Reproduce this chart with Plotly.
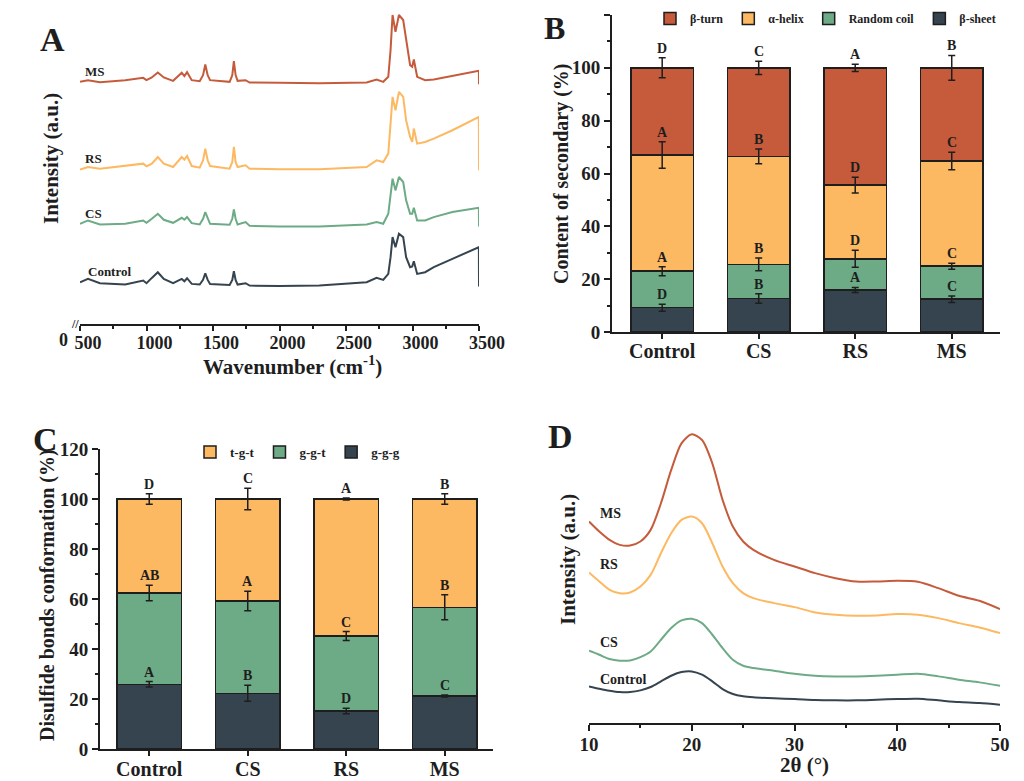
import numpy as np
import plotly.graph_objects as go

SERIF = "Liberation Serif, Times New Roman, serif"
INK = "#1e1e1e"

# ---------------- A : Raman spectra (intensity in a.u., already offset)
wavenumber = [500, 560, 650, 840, 975, 1000, 1040, 1085, 1130, 1200, 1265, 1285, 1305,
              1340, 1400, 1425, 1442, 1460, 1478, 1625, 1645, 1657, 1670, 1685, 1745,
              1775, 2000, 2300, 2655, 2730, 2780, 2818, 2835, 2850, 2872, 2898, 2930,
              2952, 2982, 2998, 3010, 3035, 3095, 3160, 3300, 3499, 3500]
raman_ms = [725, 730, 724, 730, 737, 730, 738, 753, 738, 728, 752, 742, 754,
            730, 727, 745, 777, 745, 730, 725, 745, 787, 745, 728, 730,
            723, 722, 721, 723, 732, 725, 740, 820, 925, 875, 925, 910,
            850, 775, 770, 792, 740, 730, 732, 742, 758, 718]
raman_rs = [462, 470, 465, 473, 480, 472, 480, 500, 480, 470, 500, 492, 503,
            473, 468, 490, 525, 490, 473, 465, 485, 530, 485, 470, 475,
            465, 463, 463, 470, 490, 485, 510, 590, 680, 640, 695, 680,
            610, 560, 545, 585, 540, 545, 555, 580, 620, 460]
raman_cs = [300, 310, 298, 300, 310, 303, 315, 330, 312, 303, 318, 312, 320,
            302, 298, 315, 335, 315, 300, 297, 315, 343, 315, 298, 305,
            294, 292, 292, 298, 305, 300, 330, 380, 435, 400, 440, 425,
            370, 330, 330, 348, 310, 310, 320, 335, 348, 292]
raman_control = [125, 135, 122, 118, 130, 122, 138, 155, 135, 122, 135, 128, 137,
                 120, 118, 132, 152, 132, 120, 117, 132, 158, 132, 118, 122,
                 115, 114, 115, 125, 138, 132, 150, 200, 260, 230, 270, 260,
                 200, 170, 172, 188, 150, 155, 170, 195, 230, 112]
wn_ticks = [500, 1000, 1500, 2000, 2500, 3000, 3500]

groups = ["Control", "CS", "RS", "MS"]

# ---------------- B : secondary structure (%)
sheet = [9.2, 12.7, 15.9, 12.4]
coil = [13.8, 12.9, 11.8, 12.5]
helix = [44.0, 40.9, 27.9, 39.8]
turn = [33.0, 33.5, 44.4, 35.3]
sheet_sd = [1.3, 1.8, 0.95, 1.2]
coil_sd = [1.7, 2.4, 3.2, 1.1]
helix_sd = [5.0, 2.8, 3.0, 3.3]
turn_sd = [3.8, 2.5, 1.4, 4.7]
sheet_sig = ["D", "B", "A", "C"]
coil_sig = ["A", "B", "D", "C"]
helix_sig = ["A", "B", "D", "C"]
turn_sig = ["D", "C", "A", "B"]

# ---------------- C : disulfide bond conformation (%)
ggg = [25.9, 22.3, 15.2, 21.2]
ggt = [36.5, 36.9, 30.0, 35.5]
tgt = [37.6, 40.8, 54.8, 43.3]
ggg_sd = [1.1, 3.2, 1.1, 0.4]
ggt_sd = [3.1, 3.9, 1.8, 5.0]
tgt_sd = [2.1, 4.3, 0.4, 2.1]
ggg_sig = ["A", "B", "D", "C"]
ggt_sig = ["AB", "A", "C", "B"]
tgt_sig = ["D", "C", "A", "B"]

# ---------------- D : XRD (intensity in a.u., already offset)
two_theta = [10, 11, 12, 13, 14, 15, 16, 17, 18, 19, 20, 21, 22, 23, 24, 25, 26,
             28, 30, 32, 34, 36, 38, 40, 42, 44, 46, 48, 50]
xrd_ms = [605, 575, 550, 535, 533, 545, 580, 660, 760, 840, 867, 850, 780, 670, 590,
          545, 520, 490, 470, 450, 435, 425, 425, 427, 424, 405, 382, 367, 342]
xrd_rs = [452, 425, 400, 390, 392, 410, 445, 510, 570, 610, 620, 600, 540, 470, 420,
          390, 375, 360, 348, 332, 325, 322, 323, 327, 325, 315, 300, 287, 270]
xrd_cs = [217, 205, 192, 187, 188, 198, 215, 250, 285, 308, 313, 300, 265, 225, 190,
          172, 165, 157, 148, 142, 140, 140, 142, 145, 148, 140, 130, 122, 112]
xrd_control = [110, 103, 97, 93, 93, 98, 108, 125, 142, 153, 155, 145, 125, 102, 87,
               80, 77, 74, 72, 69, 68, 68, 70, 72, 73, 68, 63, 60, 55]

C_RED = "#C65B3C"
C_ORANGE = "#FDB862"
C_GREEN = "#6DAB86"
C_DARK = "#35444F"

# page body keeps an 8px margin, so the figure sits 8px in from the window corner
W, H, PAD = 1008, 773, 8


def px(x):
    return (x - PAD) / W


def py(y):
    return 1 - (y - PAD) / H


fig = go.Figure()

# A lines
for name, vals, col in [("Control", raman_control, C_DARK), ("CS", raman_cs, C_GREEN),
                        ("RS", raman_rs, C_ORANGE), ("MS", raman_ms, C_RED)]:
    fig.add_trace(go.Scatter(x=wavenumber, y=vals, mode="lines", line=dict(color=col, width=2),
                             xaxis="x", yaxis="y", showlegend=False, name=name))

# D lines
for name, vals, col in [("Control", xrd_control, C_DARK), ("CS", xrd_cs, C_GREEN),
                        ("RS", xrd_rs, C_ORANGE), ("MS", xrd_ms, C_RED)]:
    fig.add_trace(go.Scatter(x=two_theta, y=vals, mode="lines",
                             line=dict(color=col, width=2, shape="spline", smoothing=0.8),
                             xaxis="x4", yaxis="y4", showlegend=False, name=name))

letters = []


def stacked(parts, ax, legend):
    xa, ya = ax
    bottom = np.zeros(len(groups))
    for label, vals, sd, sig, col in parts:
        vals = np.array(vals)
        fig.add_trace(go.Bar(x=groups, y=vals, name=label, marker=dict(color=col, line=dict(color=INK, width=1.5)),
                             xaxis=xa, yaxis=ya, legend=legend))
        top = bottom + vals
        fig.add_trace(go.Scatter(x=groups, y=top, mode="markers", marker=dict(size=1, color="rgba(0,0,0,0)"),
                                 error_y=dict(type="data", array=sd, color=INK, thickness=1.5, width=3.5),
                                 xaxis=xa, yaxis=ya, showlegend=False, hoverinfo="skip"))
        for g, t, s, l in zip(groups, top, sd, sig):
            letters.append(dict(x=g, y=t + s, xref=xa, yref=ya, text=l, showarrow=False,
                                yanchor="bottom", yshift=0,
                                font=dict(family=SERIF, size=14, color=INK, weight="bold")))
        bottom = top


stacked([("β-sheet", sheet, sheet_sd, sheet_sig, C_DARK),
         ("Random coil", coil, coil_sd, coil_sig, C_GREEN),
         ("α-helix", helix, helix_sd, helix_sig, C_ORANGE),
         ("β-turn", turn, turn_sd, turn_sig, C_RED)], ("x2", "y2"), "legend")

stacked([("g-g-g", ggg, ggg_sd, ggg_sig, C_DARK),
         ("g-g-t", ggt, ggt_sd, ggt_sig, C_GREEN),
         ("t-g-t", tgt, tgt_sd, tgt_sig, C_ORANGE)], ("x3", "y3"), "legend2")

tick_font = dict(family=SERIF, size=19, color=INK, weight="bold")
cat_font = dict(family=SERIF, size=20, color=INK, weight="bold")
axis_common = dict(showline=True, linecolor=INK, linewidth=2, ticks="outside", tickcolor=INK,
                   tickwidth=2, showgrid=False, zeroline=False, automargin=False)

fig.update_layout(
    width=W, height=H, margin=dict(l=0, r=0, t=0, b=0, autoexpand=False),
    paper_bgcolor="white", plot_bgcolor="white",
    barmode="stack", bargap=0.35,
    xaxis=dict(domain=[px(80), px(479)], range=[500, 3500], anchor="y", tickvals=wn_ticks,
               ticklen=5, ticklabelshift=8, ticklabelstandoff=-4, tickfont=dict(tick_font, size=18),
               minor=dict(ticks="outside", dtick=250, ticklen=3, tickcolor=INK),
               **axis_common),
    yaxis=dict(domain=[py(324), py(10)], range=[0, 940], visible=False, automargin=False),
    xaxis2=dict(domain=[px(612), px(1000)], anchor="y2", type="category", range=[-0.52, 3.5],
                ticklen=5, ticklabelstandoff=-5, tickfont=cat_font, **axis_common),
    yaxis2=dict(domain=[py(332), py(15)], anchor="x2", range=[0, 120], dtick=20, ticklen=6,
                tickfont=tick_font, minor=dict(ticks="outside", dtick=10, ticklen=3, tickcolor=INK),
                **axis_common),
    xaxis3=dict(domain=[px(100), px(493)], anchor="y3", type="category", range=[-0.5, 3.49],
                ticklen=5, ticklabelstandoff=-4, tickfont=cat_font, **axis_common),
    yaxis3=dict(domain=[py(749), py(449)], anchor="x3", range=[0, 120], dtick=20, ticklen=6,
                tickfont=tick_font, minor=dict(ticks="outside", dtick=10, ticklen=3, tickcolor=INK),
                **axis_common),
    xaxis4=dict(domain=[px(589), px(1000)], anchor="y4", range=[10, 50], dtick=10, ticklen=6,
                ticklabelstandoff=-3, tickfont=tick_font,
                minor=dict(ticks="outside", dtick=5, ticklen=3, tickcolor=INK),
                **axis_common),
    yaxis4=dict(domain=[py(723), py(420)], range=[0, 910], visible=False, automargin=False),
    legend=dict(orientation="h", x=px(650), y=py(4), xanchor="left", yanchor="top",
                traceorder="reversed", bgcolor="rgba(0,0,0,0)", itemwidth=30,
                font=dict(family=SERIF, size=12, color=INK, weight="bold")),
    legend2=dict(orientation="h", x=px(190), y=py(437), xanchor="left", yanchor="top",
                 traceorder="reversed", bgcolor="rgba(0,0,0,0)", itemwidth=30,
                 font=dict(family=SERIF, size=13, color=INK, weight="bold")),
)

ann = list(letters)


def note(text, x, y, size, angle=0, xref="paper", yref="paper", xanchor="center", yanchor="middle"):
    ann.append(dict(text=text, x=x, y=y, xref=xref, yref=yref, showarrow=False, textangle=angle,
                    xanchor=xanchor, yanchor=yanchor,
                    font=dict(family=SERIF, size=size, color=INK, weight="bold")))


# panel letters
note("A", px(52), py(40), 34)
note("B", px(554), py(8), 32, yanchor="top")
note("C", px(45), py(439), 34)
note("D", px(560), py(436), 34)

# axis titles
note("Intensity (a.u.)", px(51), py(159), 21, angle=-90)
note("Wavenumber (cm<sup>-1</sup>)", px(292), py(366), 21)
note("Content of secondary (%)", px(562), py(174), 20, angle=-90)
note("Disulfide bonds conformation (%)", px(47), py(595), 20, angle=-90)
note("Intensity (a.u.)", px(568), py(560), 21, angle=-90)
note("2θ (°)", px(804), py(765), 21)

# axis break on A
note("0", px(63), py(340), 18)
note("//", px(75), py(324), 12)

# series labels
for text, yv, xv in [("MS", 755, 520), ("RS", 495, 520), ("CS", 332, 525), ("Control", 158, 545)]:
    note(text, xv, yv, 13, xref="x", yref="y", xanchor="left")
for text, yv in [("MS", 630), ("RS", 477), ("CS", 242), ("Control", 132)]:
    note(text, 10.85, yv, 14, xref="x4", yref="y4", xanchor="left")

fig.update_layout(annotations=ann)

fig.write_html("out.html")
